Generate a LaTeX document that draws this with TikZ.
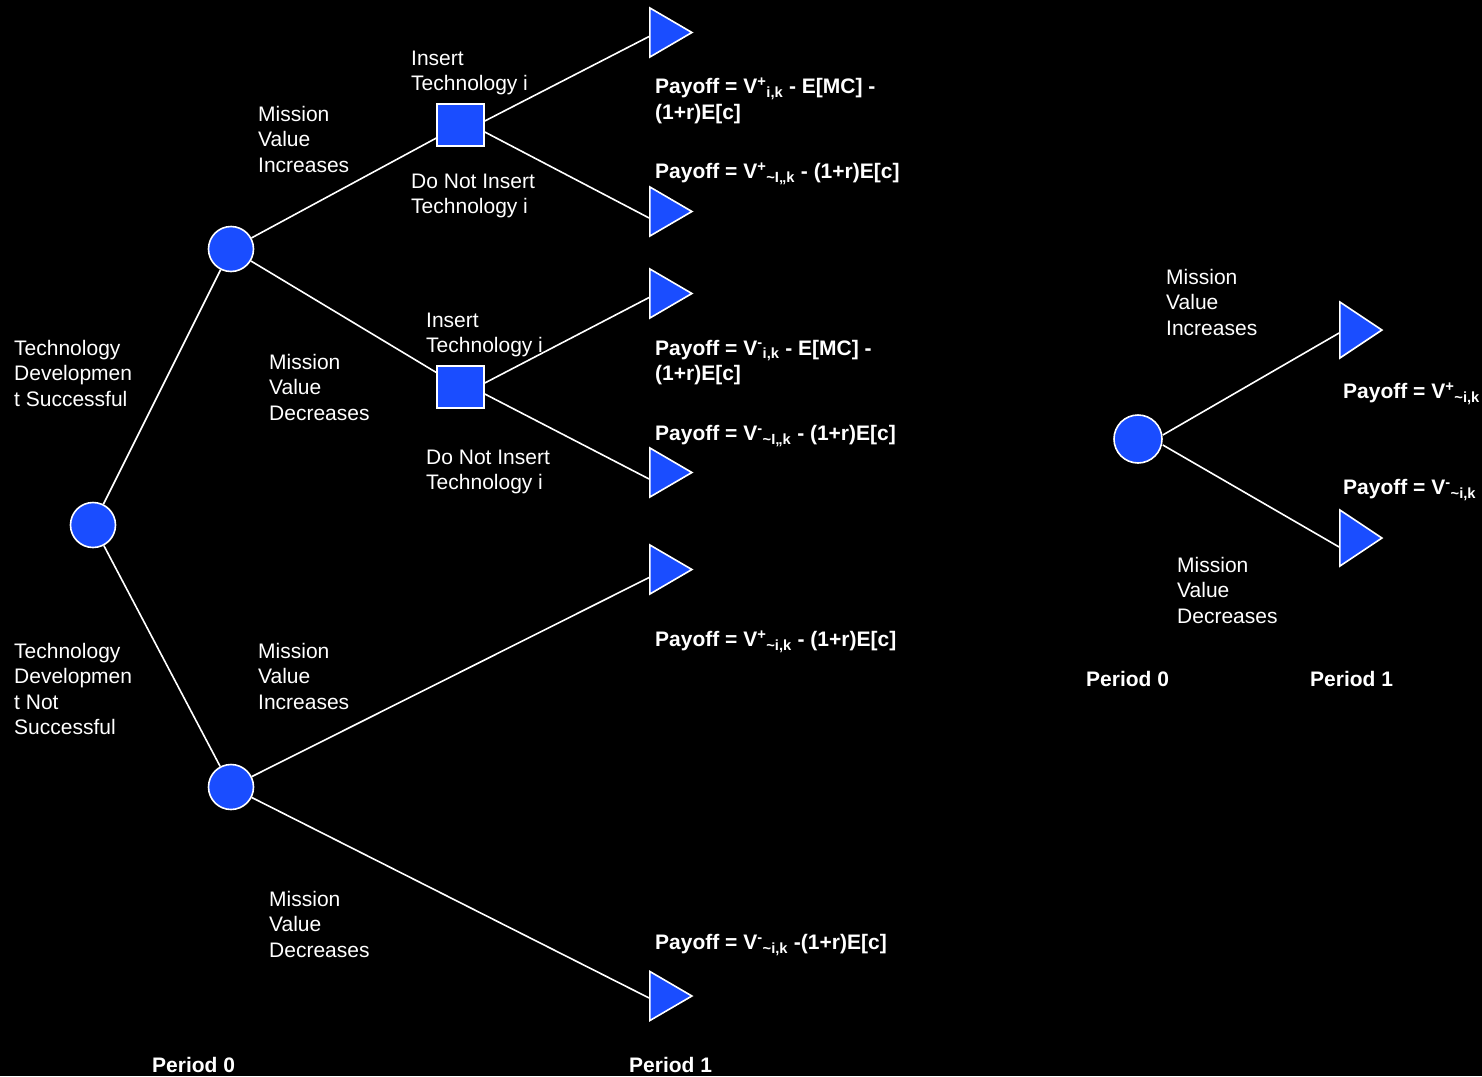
\documentclass[tikz,border=0pt]{standalone}
\usepackage{fontspec}
\setmainfont{Liberation Sans}
\usetikzlibrary{shapes.geometric}
\definecolor{nodeblue}{RGB}{26,77,255}
\newcommand{\lblfont}{\fontsize{21}{25.5}\selectfont}
\newcommand{\payfont}{\fontsize{21}{25.5}\selectfont\bfseries}
\newcommand{\Vsb}[2]{V\textsuperscript{#1}\textsubscript{#2}}
\begin{document}
\begin{tikzpicture}[x=1pt,y=-1pt,
  chance/.style={circle, draw=white, line width=1.6pt, fill=nodeblue, minimum size=45pt, inner sep=0pt},
  decision/.style={rectangle, draw=white, line width=1.6pt, fill=nodeblue, minimum width=47pt, minimum height=42pt, inner sep=0pt},
  tri/.style={isosceles triangle, isosceles triangle stretches, draw=white, line width=1.6pt, fill=nodeblue, minimum width=49pt, minimum height=42pt, inner sep=0pt, anchor=apex},
  conn/.style={draw=white, line width=1.6pt},
  lbl/.style={anchor=north west, inner sep=0pt, align=left, text=white, font=\lblfont, yshift=15.85pt, execute at begin node=\strut},
  pay/.style={lbl, font=\payfont}]
\fill[black] (0,0) rectangle (1482,1076);
\useasboundingbox (0,0) rectangle (1482,1076);

% nodes
\node[chance] (r) at (93,525) {};
\node[chance] (a) at (231,249) {};
\node[chance] (b) at (231,787) {};
\node[decision] (s1) at (460.5,125) {};
\node[decision] (s2) at (460.5,387) {};
\node[tri] (t1) at (694,32.5) {};
\node[tri] (t2) at (694,211.5) {};
\node[tri] (t3) at (694,293.5) {};
\node[tri] (t4) at (694,472.5) {};
\node[tri] (t5) at (694,569.5) {};
\node[tri] (t6) at (694,996) {};
\node[chance, minimum size=48pt] (rc) at (1138,439) {};
\node[tri, minimum width=56pt] (rt1) at (1384,330) {};
\node[tri, minimum width=56pt] (rt2) at (1384,538) {};

% connectors
\draw[conn] (r) -- (a);
\draw[conn] (r) -- (b);
\draw[conn] (a) -- (s1);
\draw[conn] (a) -- (s2);
\draw[conn] ([yshift=4pt]s1.east) -- ([yshift=-4pt]t1.west);
\draw[conn] ([yshift=-7pt]s1.east) -- ([yshift=-6.5pt]t2.west);
\draw[conn] ([yshift=4pt]s2.east) -- ([yshift=-4pt]t3.west);
\draw[conn] ([yshift=-7pt]s2.east) -- ([yshift=-6.5pt]t4.west);
\draw[conn] (b) -- ([yshift=-8pt]t5.west);
\draw[conn] (b) -- ([yshift=-2pt]t6.west);
\draw[conn] ([yshift=4pt]rc.east) -- ([yshift=-3pt]rt1.west);
\draw[conn] ([yshift=-6pt]rc.east) -- ([yshift=-9pt]rt2.west);

% labels
\node[lbl] (l1) at (14,355.5) {Technology\\Developmen\\t Successful};
\node[lbl] (l2) at (14,658.5) {Technology\\Developmen\\t Not\\Successful};
\node[lbl] (l3) at (258,121.5) {Mission\\Value\\Increases};
\node[lbl] (l4) at (269,369.5) {Mission\\Value\\Decreases};
\node[lbl] (l5) at (411,66.5) {Insert\\Technology i};
\node[lbl] (l6) at (411,189.5) {Do Not Insert\\Technology i};
\node[lbl] (l7) at (426,328.5) {Insert\\Technology i};
\node[lbl] (l8) at (426,465.5) {Do Not Insert\\Technology i};
\node[lbl] (l9) at (258,658.5) {Mission\\Value\\Increases};
\node[lbl] (l10) at (269,906.5) {Mission\\Value\\Decreases};
\node[lbl] (l11) at (1166,284.5) {Mission\\Value\\Increases};
\node[lbl] (l12) at (1177,572.5) {Mission\\Value\\Decreases};

\node[pay] (p1) at (655,93.5) {Payoff = \Vsb{+}{i,k} - E[MC] -\\(1+r)E[c]};
\node[pay] (p2) at (655,176.5) {Payoff = \Vsb{+}{\textasciitilde I,,k} - (1+r)E[c]};
\node[pay] (p3) at (655,355.5) {Payoff = \Vsb{-}{i,k} - E[MC] -\\(1+r)E[c]};
\node[pay] (p4) at (655,438.5) {Payoff = \Vsb{-}{\textasciitilde I,,k} - (1+r)E[c]};
\node[pay] (p5) at (655,644.5) {Payoff = \Vsb{+}{\textasciitilde i,k} - (1+r)E[c]};
\node[pay] (p6) at (655,947.5) {Payoff = \Vsb{-}{\textasciitilde i,k} -(1+r)E[c]};
\node[pay] (p7) at (1343,396.5) {Payoff = \Vsb{+}{\textasciitilde i,k}};
\node[pay] (p8) at (1343,492.5) {Payoff = \Vsb{-}{\textasciitilde i,k}};

\node[pay] (per0) at (152,1070.5) {Period 0};
\node[pay] (per1) at (629,1070.5) {Period 1};
\node[pay] (rper0) at (1086,684.5) {Period 0};
\node[pay] (rper1) at (1310,684.5) {Period 1};
\end{tikzpicture}
\end{document}
